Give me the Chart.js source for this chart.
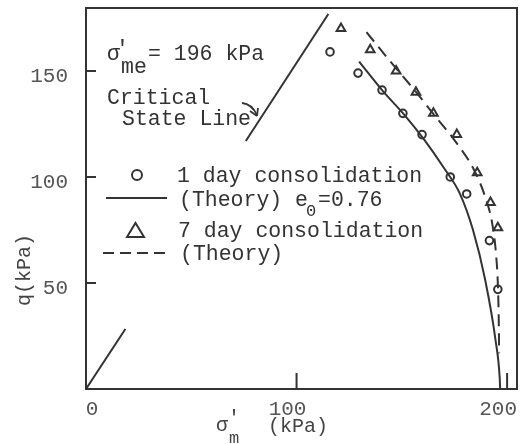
<!DOCTYPE html>
<html>
<head>
<meta charset="utf-8">
<script src="https://cdn.jsdelivr.net/npm/chart.js@4/dist/chart.umd.min.js"></script>
<style>
html,body{margin:0;padding:0;background:#fff;}
#wrap{width:524px;height:444px;position:relative;}
</style>
</head>
<body>
<div id="wrap"><canvas id="c" width="524" height="444"></canvas></div>
<script>
// ---- data (σ'm in kPa, q in kPa) ----
const day1P = [115.9,129.2,140.6,150.5,159.6,173.0,180.8,191.6,195.6];
const day1Q = [159,149,141,130,120,100,92,70,47];
const day7P = [121.1,135.0,147.3,156.7,165.0,176.1,185.8,192.1,195.6];
const day7Q = [170,160,150,140,130,120,102,88,76];
const theory1P = [129.7,140.6,151.3,160.7,170.1,177.5,183.8,189.6,194.5,196.5,196.7];
const theory1Q = [154.4,141.0,129.2,117.5,104.1,92.3,75.0,51.4,23.1,5.0,0];
const theory7P = [133.2,146.6,156.0,165.4,174.9,184.3,189.8,192.9,194.7,195.7,196.1,196.2];
const theory7Q = [168.3,152.0,141.0,129.2,117.5,103.3,90.0,78.2,64.0,46.7,27.8,16.8];
const cslLowerP = [0,18.7];
const cslLowerQ = [0,28.3];
const cslUpperP = [75.9,115.1];
const cslUpperQ = [117,176.9];
const xTicks = [0,100,200];
const yTicks = [50,100,150];

const pts = (xs,ys)=>xs.map((x,i)=>({x:x,y:ys[i]}));
const INK = '#333';
const FONT = 'Liberation Mono, Courier New, monospace';

const decor = {
  id:'decor',
  afterDraw(chart){
    const ctx = chart.ctx, a = chart.chartArea;
    const xs = chart.scales.x, ys = chart.scales.y;
    ctx.save();
    ctx.strokeStyle = INK; ctx.lineWidth = 2;
    ctx.strokeRect(a.left, a.top, a.right-a.left, a.bottom-a.top);
    // inward ticks
    ctx.beginPath();
    yTicks.forEach(v=>{const y=ys.getPixelForValue(v); ctx.moveTo(a.left,y); ctx.lineTo(a.left+10,y);});
    xTicks.filter(v=>v>0).forEach(v=>{const x=xs.getPixelForValue(v); ctx.moveTo(x,a.bottom); ctx.lineTo(x,a.bottom-16);});
    ctx.stroke();
    // tick labels
    ctx.fillStyle = '#555';
    ctx.font = '21px '+FONT;
    ctx.textBaseline = 'alphabetic';
    ctx.textAlign = 'right';
    yTicks.forEach(v=>{ctx.fillText(String(v), a.left-18, ys.getPixelForValue(v)+11);});
    ctx.textAlign = 'center';
    xTicks.forEach(v=>{const x=xs.getPixelForValue(v); ctx.fillText(String(v), x + (v===0?6:-9), a.bottom+26);});
    // axis titles
    ctx.fillStyle = '#444';
    ctx.font = '20px '+FONT;
    ctx.textAlign = 'left';
    ctx.fillText('\u03c3', 216, 431);
    ctx.fillText("'", 228, 424);
    ctx.font = '17px '+FONT;
    ctx.fillText('m', 229, 443);
    ctx.font = '20px '+FONT;
    ctx.fillText('(kPa)', 268, 432);
    ctx.save();
    ctx.translate(30, 270);
    ctx.rotate(-Math.PI/2);
    ctx.textAlign = 'center';
    ctx.fillText('q(kPa)', 0, 0);
    ctx.restore();
    // annotations
    ctx.fillStyle = '#333';
    ctx.font = '21.5px '+FONT;
    ctx.textAlign = 'left';
    ctx.fillText('\u03c3', 107, 60);
    ctx.fillText("'", 116, 55);
    ctx.fillText('me', 121, 73);
    ctx.fillText('= 196 kPa', 148, 60);
    ctx.fillText('Critical', 107, 104);
    ctx.fillText('State Line', 122, 125);
    // arrow
    ctx.lineWidth = 1.8;
    ctx.beginPath();
    ctx.moveTo(242,103);
    ctx.quadraticCurveTo(252,104,257,115);
    ctx.stroke();
    ctx.beginPath();
    ctx.moveTo(257,116); ctx.lineTo(250,111); ctx.moveTo(257,116); ctx.lineTo(258,108);
    ctx.stroke();
    // legend
    ctx.lineWidth = 2;
    ctx.beginPath(); ctx.arc(137,175,5,0,Math.PI*2); ctx.stroke();
    ctx.fillText('1 day consolidation', 177, 182);
    ctx.beginPath(); ctx.moveTo(106,198); ctx.lineTo(167,198); ctx.stroke();
    ctx.fillText('(Theory) e', 179, 206);
    ctx.font = '17px '+FONT;
    ctx.fillText('0', 306, 216);
    ctx.font = '21.5px '+FONT;
    ctx.fillText('=0.76', 318, 206);
    ctx.beginPath(); ctx.moveTo(127,237); ctx.lineTo(144,237); ctx.lineTo(135.5,223); ctx.closePath(); ctx.stroke();
    ctx.fillText('7 day consolidation', 178, 237);
    ctx.setLineDash([11,6]);
    ctx.beginPath(); ctx.moveTo(103,253); ctx.lineTo(167,253); ctx.stroke();
    ctx.setLineDash([]);
    ctx.fillText('(Theory)', 180, 260);
    ctx.restore();
  }
};

new Chart(document.getElementById('c'), {
  type:'scatter',
  data:{datasets:[
    {label:'CSL lower', data:pts(cslLowerP,cslLowerQ), showLine:true, borderColor:INK, borderWidth:2, pointRadius:0},
    {label:'CSL upper', data:pts(cslUpperP,cslUpperQ), showLine:true, borderColor:INK, borderWidth:2, pointRadius:0},
    {label:'(Theory) e0=0.76', data:pts(theory1P,theory1Q), showLine:true, borderColor:INK, borderWidth:2, pointRadius:0, cubicInterpolationMode:'monotone'},
    {label:'(Theory)', data:pts(theory7P,theory7Q), showLine:true, borderColor:INK, borderWidth:2, borderDash:[12,7], pointRadius:0, cubicInterpolationMode:'monotone'},
    {label:'1 day consolidation', data:pts(day1P,day1Q), showLine:false, pointStyle:'circle', pointRadius:3.8, borderWidth:2, borderColor:INK, backgroundColor:'rgba(255,255,255,0)'},
    {label:'7 day consolidation', data:pts(day7P,day7Q), showLine:false, pointStyle:'triangle', pointRadius:5, borderWidth:2, borderColor:INK, backgroundColor:'rgba(255,255,255,0)'}
  ]},
  options:{
    responsive:false, animation:false,
    layout:{padding:{left:86,right:4,top:8,bottom:55}},
    plugins:{legend:{display:false}, tooltip:{enabled:false}},
    scales:{
      x:{type:'linear', display:false, min:0, max:204.7},
      y:{type:'linear', display:false, min:0, max:179.7}
    }
  },
  plugins:[decor]
});
</script>
</body>
</html>
